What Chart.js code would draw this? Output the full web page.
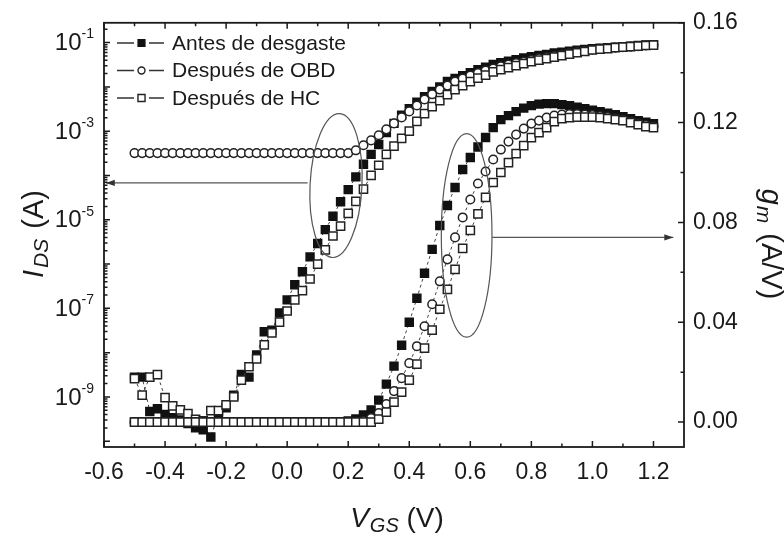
<!DOCTYPE html>
<html>
<head>
<meta charset="utf-8">
<script src="https://cdn.jsdelivr.net/npm/chart.js@4.4.0/dist/chart.umd.min.js"></script>
<style>
  body { margin: 0; background: #fff; }
  .wrap { width: 784px; height: 535px; }
</style>
</head>
<body>
<div class="wrap"><canvas id="chart"></canvas></div>
<script>
// V_GS sweep (V)
const vgs = [-0.5, -0.475, -0.45, -0.425, -0.4, -0.375, -0.35, -0.325, -0.3, -0.275,
  -0.25, -0.225, -0.2, -0.175, -0.15, -0.125, -0.1, -0.075, -0.05, -0.025,
  0, 0.025, 0.05, 0.075, 0.1, 0.125, 0.15, 0.175, 0.2, 0.225,
  0.25, 0.275, 0.3, 0.325, 0.35, 0.375, 0.4, 0.425, 0.45, 0.475,
  0.5, 0.525, 0.55, 0.575, 0.6, 0.625, 0.65, 0.675, 0.7, 0.725,
  0.75, 0.775, 0.8, 0.825, 0.85, 0.875, 0.9, 0.925, 0.95, 0.975,
  1.0, 1.025, 1.05, 1.075, 1.1, 1.125, 1.15, 1.175, 1.2];

// I_DS (A), left log axis
const idsAntes = [2.8e-9, 2.8e-9, 4.7e-10, 5.4e-10, 4.0e-10, 3.4e-10, 3.0e-10, 2.5e-10, 2.0e-10, 1.8e-10,
  1.25e-10, 4.0e-10, 5.7e-10, 1.1e-9, 3.2e-9, 2.8e-9, 8.9e-9, 2.95e-8, 3.2e-8, 7.9e-8,
  1.55e-7, 3.4e-7, 6.7e-7, 1.45e-6, 2.9e-6, 6.0e-6, 1.2e-5, 2.55e-5, 4.8e-5, 9.3e-5,
  1.8e-4, 3.0e-4, 5.0e-4, 9.3e-4, 1.5e-3, 2.3e-3, 3.2e-3, 4.5e-3, 6.0e-3, 7.9e-3,
  1.0e-2, 1.32e-2, 1.55e-2, 1.8e-2, 2.1e-2, 2.45e-2, 2.8e-2, 3.2e-2, 3.5e-2, 3.8e-2,
  4.1e-2, 4.5e-2, 4.8e-2, 5.1e-2, 5.4e-2, 5.8e-2, 6.1e-2, 6.4e-2, 6.7e-2, 7.0e-2,
  7.3e-2, 7.5e-2, 7.7e-2, 7.9e-2, 8.1e-2, 8.3e-2, 8.6e-2, 8.8e-2, 9.0e-2];

const idsObd = [3.2e-4, 3.2e-4, 3.2e-4, 3.2e-4, 3.2e-4, 3.2e-4, 3.2e-4, 3.2e-4, 3.2e-4, 3.2e-4,
  3.2e-4, 3.2e-4, 3.2e-4, 3.2e-4, 3.2e-4, 3.2e-4, 3.2e-4, 3.2e-4, 3.2e-4, 3.2e-4,
  3.2e-4, 3.2e-4, 3.2e-4, 3.2e-4, 3.2e-4, 3.2e-4, 3.2e-4, 3.2e-4, 3.2e-4,
  3.7e-4, 4.8e-4, 6.2e-4, 8.1e-4, 1.1e-3, 1.5e-3, 2.05e-3, 2.8e-3, 3.8e-3, 5.2e-3,
  6.8e-3, 8.7e-3, 1.07e-2, 1.32e-2, 1.55e-2, 1.8e-2, 2.05e-2, 2.35e-2, 2.6e-2, 2.9e-2,
  3.2e-2, 3.45e-2, 3.7e-2, 4.05e-2, 4.4e-2, 4.65e-2, 4.95e-2, 5.3e-2, 5.7e-2, 6.1e-2,
  6.5e-2, 6.9e-2, 7.2e-2, 7.5e-2, 7.7e-2, 7.9e-2, 8.1e-2, 8.3e-2, 8.6e-2, 8.8e-2];

const idsHc = [2.6e-9, 1.1e-9, 2.8e-9, 3.2e-9, 9.6e-10, 6.3e-10, 5.1e-10, 4.2e-10, 3.1e-10, 2.9e-10,
  4.9e-10, 4.9e-10, 6.6e-10, 1.0e-9, 2.4e-9, 4.8e-9, 7.2e-9, 1.5e-8, 2.8e-8, 4.9e-8,
  8.7e-8, 1.55e-7, 2.5e-7, 4.6e-7, 1.0e-6, 2.1e-6, 4.3e-6, 7.2e-6, 1.4e-5, 2.6e-5,
  4.9e-5, 1.0e-4, 1.7e-4, 3.0e-4, 4.6e-4, 6.9e-4, 1.0e-3, 1.66e-3, 2.5e-3, 3.6e-3,
  4.9e-3, 6.7e-3, 8.7e-3, 1.07e-2, 1.32e-2, 1.58e-2, 1.85e-2, 2.18e-2, 2.46e-2, 2.73e-2,
  3.03e-2, 3.37e-2, 3.73e-2, 4.04e-2, 4.36e-2, 4.71e-2, 5.1e-2, 5.5e-2, 5.9e-2, 6.3e-2,
  6.8e-2, 7.1e-2, 7.3e-2, 7.7e-2, 7.9e-2, 8.1e-2, 8.3e-2, 8.6e-2, 8.8e-2];

// g_m (A/V), right axis
const gmAntes = [0, 0, 0, 0, 0, 0, 0, 0, 0, 0,
  0, 0, 0, 0, 0, 0, 0, 0, 0, 0,
  0, 0, 0, 0, 0, 0, 0, 0,
  0.0004, 0.0012, 0.0028, 0.0048, 0.0088, 0.0152, 0.0224, 0.0308, 0.040, 0.0496,
  0.0596, 0.0692, 0.0788, 0.0868, 0.094, 0.1012, 0.106, 0.1102, 0.114, 0.118,
  0.1212, 0.1228, 0.1244, 0.1258, 0.1268, 0.1274, 0.1276, 0.1276, 0.1272, 0.1268,
  0.1262, 0.1256, 0.125, 0.1244, 0.1238, 0.1232, 0.1224, 0.1216, 0.1208, 0.1202, 0.1196];

const gmObd = [0, 0, 0, 0, 0, 0, 0, 0, 0, 0,
  0, 0, 0, 0, 0, 0, 0, 0, 0, 0,
  0, 0, 0, 0, 0, 0, 0, 0, 0, 0,
  0.0004, 0.0016, 0.0036, 0.0072, 0.0124, 0.0176, 0.0236, 0.0304, 0.0384, 0.0472,
  0.0564, 0.0652, 0.074, 0.082, 0.0892, 0.0956, 0.1004, 0.1052, 0.1092, 0.1124,
  0.1152, 0.1176, 0.1196, 0.1208, 0.122, 0.1228, 0.1232, 0.1234, 0.1234, 0.1232,
  0.123, 0.1226, 0.1222, 0.1216, 0.121, 0.1204, 0.1196, 0.119, 0.1184];

const gmHc = [0, 0, 0, 0, 0, 0, 0, 0, 0, 0,
  0, 0, 0, 0, 0, 0, 0, 0, 0, 0,
  0, 0, 0, 0, 0, 0, 0, 0, 0, 0, 0, 0,
  0.0012, 0.004, 0.008, 0.012, 0.0168, 0.0232, 0.0296, 0.0368, 0.0452, 0.0532,
  0.0612, 0.0696, 0.0768, 0.0834, 0.09, 0.096, 0.1, 0.104, 0.1076, 0.1108,
  0.114, 0.116, 0.118, 0.1204, 0.1216, 0.122, 0.1222, 0.1222, 0.1222, 0.122,
  0.1216, 0.1212, 0.1208, 0.12, 0.1192, 0.1184, 0.118];

// axis ticks
const xMajor = [-0.6, -0.4, -0.2, 0.0, 0.2, 0.4, 0.6, 0.8, 1.0, 1.2];
const xMinor = [-0.5, -0.3, -0.1, 0.1, 0.3, 0.5, 0.7, 0.9, 1.1];
const gmMajor = [0.00, 0.04, 0.08, 0.12, 0.16];
const gmMinor = [0.02, 0.06, 0.10, 0.14];
const idsLabelExp = [-1, -3, -5, -7, -9];
const idsDecades = [-10, -9, -8, -7, -6, -5, -4, -3, -2, -1];

const legendNames = ['Antes de desgaste', 'Después de OBD', 'Después de HC'];

// annotations, in data units
const ellipseIds = { x0: 0.075, x1: 0.245, top: 2.5e-3, bottom: 1.4e-6, tilt: 0.05 };
const arrowIds = { y: 6.8e-5, from: 0.067, to: -0.594 };
const ellipseGm = { x0: 0.505, x1: 0.671, top: 0.1156, bottom: 0.034, tilt: 0 };
const arrowGm = { y: 0.074, from: 0.672, to: 1.265 };

const FONT = "'Liberation Sans', Arial, sans-serif";
const INK = '#1a1a1a';

const markers = [
  { style: 'rect', radius: 5.6, bg: '#111', border: '#111' },
  { style: 'circle', radius: 4.3, bg: '#fff', border: '#222' },
  { style: 'rect', radius: 5.8, bg: '#fff', border: '#222' }
];

const makeSet = function(values, m, axis, order) {
  return {
    data: vgs.map((v, i) => ({ x: v, y: values[i] })),
    yAxisID: axis,
    order: order,
    borderColor: '#444',
    borderWidth: 1,
    borderDash: [3, 3],
    pointStyle: m.style,
    pointRadius: m.radius,
    pointBackgroundColor: m.bg,
    pointBorderColor: m.border,
    pointBorderWidth: 1.5,
    tension: 0,
    fill: false
  };
};

const drawRich = function(ctx, parts, x, y) {
  let w = 0;
  parts.forEach(p => {
    ctx.font = `${p.italic ? 'italic ' : ''}${p.size}px ${FONT}`;
    w += ctx.measureText(p.t).width + (p.gap || 0);
  });
  let cx = x - w / 2;
  parts.forEach(p => {
    ctx.font = `${p.italic ? 'italic ' : ''}${p.size}px ${FONT}`;
    ctx.fillText(p.t, cx, y + (p.dy || 0));
    cx += ctx.measureText(p.t).width + (p.gap || 0);
  });
};

const arrowHead = function(ctx, x, y, dir) {
  ctx.beginPath();
  ctx.moveTo(x, y);
  ctx.lineTo(x - dir * 9, y - 3.2);
  ctx.lineTo(x - dir * 9, y + 3.2);
  ctx.closePath();
  ctx.fill();
};

const decorPlugin = {
  id: 'decor',
  afterDraw(chart) {
    const ctx = chart.ctx;
    const { left, right, top, bottom } = chart.chartArea;
    const sx = chart.scales.x, sy = chart.scales.y, sg = chart.scales.y1;
    ctx.save();

    // annotations
    ctx.strokeStyle = '#555';
    ctx.fillStyle = '#333';
    ctx.lineWidth = 1.2;
    [[ellipseIds, sy], [ellipseGm, sg]].forEach(([e, s]) => {
      const x0 = sx.getPixelForValue(e.x0), x1 = sx.getPixelForValue(e.x1);
      const y0 = s.getPixelForValue(e.top), y1 = s.getPixelForValue(e.bottom);
      ctx.beginPath();
      ctx.ellipse((x0 + x1) / 2, (y0 + y1) / 2, (x1 - x0) / 2, (y1 - y0) / 2, e.tilt, 0, Math.PI * 2);
      ctx.stroke();
    });
    [[arrowIds, sy], [arrowGm, sg]].forEach(([a, s]) => {
      const y = s.getPixelForValue(a.y);
      const xa = sx.getPixelForValue(a.from), xb = sx.getPixelForValue(a.to);
      ctx.beginPath();
      ctx.moveTo(xa, y);
      ctx.lineTo(xb, y);
      ctx.stroke();
      arrowHead(ctx, xb, y, xb > xa ? 1 : -1);
    });

    // frame
    ctx.strokeStyle = INK;
    ctx.lineWidth = 1.8;
    ctx.strokeRect(left, top, right - left, bottom - top);

    // inward ticks
    ctx.lineWidth = 1.5;
    ctx.beginPath();
    const xt = (v, len) => {
      const px = sx.getPixelForValue(v);
      ctx.moveTo(px, bottom); ctx.lineTo(px, bottom - len);
      ctx.moveTo(px, top); ctx.lineTo(px, top + len);
    };
    xMajor.forEach(v => xt(v, 6));
    xMinor.forEach(v => xt(v, 3.5));
    gmMajor.forEach(v => { const py = sg.getPixelForValue(v); ctx.moveTo(right, py); ctx.lineTo(right - 6, py); });
    gmMinor.forEach(v => { const py = sg.getPixelForValue(v); ctx.moveTo(right, py); ctx.lineTo(right - 3.5, py); });
    idsDecades.forEach(d => {
      for (let m = 1; m <= 9; m++) {
        const v = m * Math.pow(10, d);
        if (v < sy.min || v > sy.max) continue;
        const py = sy.getPixelForValue(v);
        ctx.moveTo(left, py); ctx.lineTo(left + (m === 1 ? 6 : 3.5), py);
      }
    });
    ctx.stroke();

    // left tick labels 10^n
    ctx.fillStyle = INK;
    ctx.textBaseline = 'middle';
    ctx.textAlign = 'left';
    idsLabelExp.forEach(e => {
      const py = sy.getPixelForValue(Math.pow(10, e));
      const sup = String(e);
      ctx.font = `14px ${FONT}`;
      const ws = ctx.measureText(sup).width;
      ctx.font = `24px ${FONT}`;
      const wb = ctx.measureText('10').width;
      const xEnd = left - 10;
      ctx.fillText('10', xEnd - ws - wb, py + 1);
      ctx.font = `14px ${FONT}`;
      ctx.fillText(sup, xEnd - ws, py - 8);
    });

    // axis titles
    ctx.textBaseline = 'alphabetic';
    drawRich(ctx, [
      { t: 'V', size: 28, italic: true, gap: 1 },
      { t: 'GS', size: 20, italic: true, dy: 5, gap: 0 },
      { t: ' (V)', size: 28 }
    ], 397, 527);

    ctx.save();
    ctx.translate(43, 234);
    ctx.rotate(-Math.PI / 2);
    drawRich(ctx, [
      { t: 'I', size: 29, italic: true, gap: 2 },
      { t: 'DS', size: 21, italic: true, dy: 5, gap: 2 },
      { t: ' (A)', size: 29 }
    ], 0, 0);
    ctx.restore();

    ctx.save();
    ctx.translate(762, 244);
    ctx.rotate(Math.PI / 2);
    drawRich(ctx, [
      { t: 'g', size: 29, italic: true, gap: 1 },
      { t: 'm', size: 21, italic: true, dy: 5, gap: 2 },
      { t: ' (A/V)', size: 29 }
    ], 0, 0);
    ctx.restore();

    // legend
    ctx.textBaseline = 'middle';
    ctx.textAlign = 'left';
    legendNames.forEach((name, i) => {
      const ry = 43 + i * 27.5;
      const m = markers[i];
      ctx.strokeStyle = '#333';
      ctx.lineWidth = 1.3;
      ctx.beginPath();
      ctx.moveTo(117, ry); ctx.lineTo(134, ry);
      ctx.moveTo(149, ry); ctx.lineTo(164, ry);
      ctx.stroke();
      ctx.fillStyle = m.bg;
      ctx.strokeStyle = m.border;
      ctx.lineWidth = 1.4;
      Chart.helpers.drawPoint(ctx, { pointStyle: m.style, radius: m.radius - 0.8, borderWidth: 1.4, rotation: 0 }, 141.5, ry);
      ctx.fillStyle = INK;
      ctx.font = `21px ${FONT}`;
      ctx.fillText(name, 172, ry + 1);
    });

    ctx.restore();
  }
};

const ctx = document.getElementById('chart').getContext('2d');
new Chart(ctx, {
  type: 'line',
  data: {
    datasets: [
      makeSet(idsAntes, markers[0], 'y', 6),
      makeSet(idsObd, markers[1], 'y', 5),
      makeSet(idsHc, markers[2], 'y', 4),
      makeSet(gmAntes, markers[0], 'y1', 3),
      makeSet(gmObd, markers[1], 'y1', 2),
      makeSet(gmHc, markers[2], 'y1', 1)
    ]
  },
  options: {
    responsive: true,
    maintainAspectRatio: false,
    animation: false,
    layout: { padding: { top: 22, left: 0, right: 0, bottom: 0 } },
    plugins: { legend: { display: false }, tooltip: { enabled: false } },
    scales: {
      x: {
        type: 'linear', min: -0.6, max: 1.3,
        grid: { display: false, drawTicks: false },
        border: { display: false },
        afterBuildTicks: s => { s.ticks = xMajor.map(v => ({ value: v })); },
        afterFit: s => { s.height = 88; },
        ticks: { padding: 12, color: INK, font: { family: FONT, size: 23 }, maxRotation: 0,
          callback: v => Number(v).toFixed(1) }
      },
      y: {
        type: 'logarithmic', position: 'left', min: 7.4e-11, max: 0.28,
        grid: { display: false, drawTicks: false },
        border: { display: false },
        ticks: { display: false },
        afterFit: s => { s.width = 104; }
      },
      y1: {
        type: 'linear', position: 'right', min: -0.01, max: 0.16,
        grid: { display: false, drawTicks: false },
        border: { display: false },
        afterBuildTicks: s => { s.ticks = gmMajor.map(v => ({ value: v })); },
        afterFit: s => { s.width = 100; },
        ticks: { padding: 9, color: INK, font: { family: FONT, size: 23 },
          callback: v => Number(v).toFixed(2) }
      }
    }
  },
  plugins: [decorPlugin]
});
</script>
</body>
</html>
